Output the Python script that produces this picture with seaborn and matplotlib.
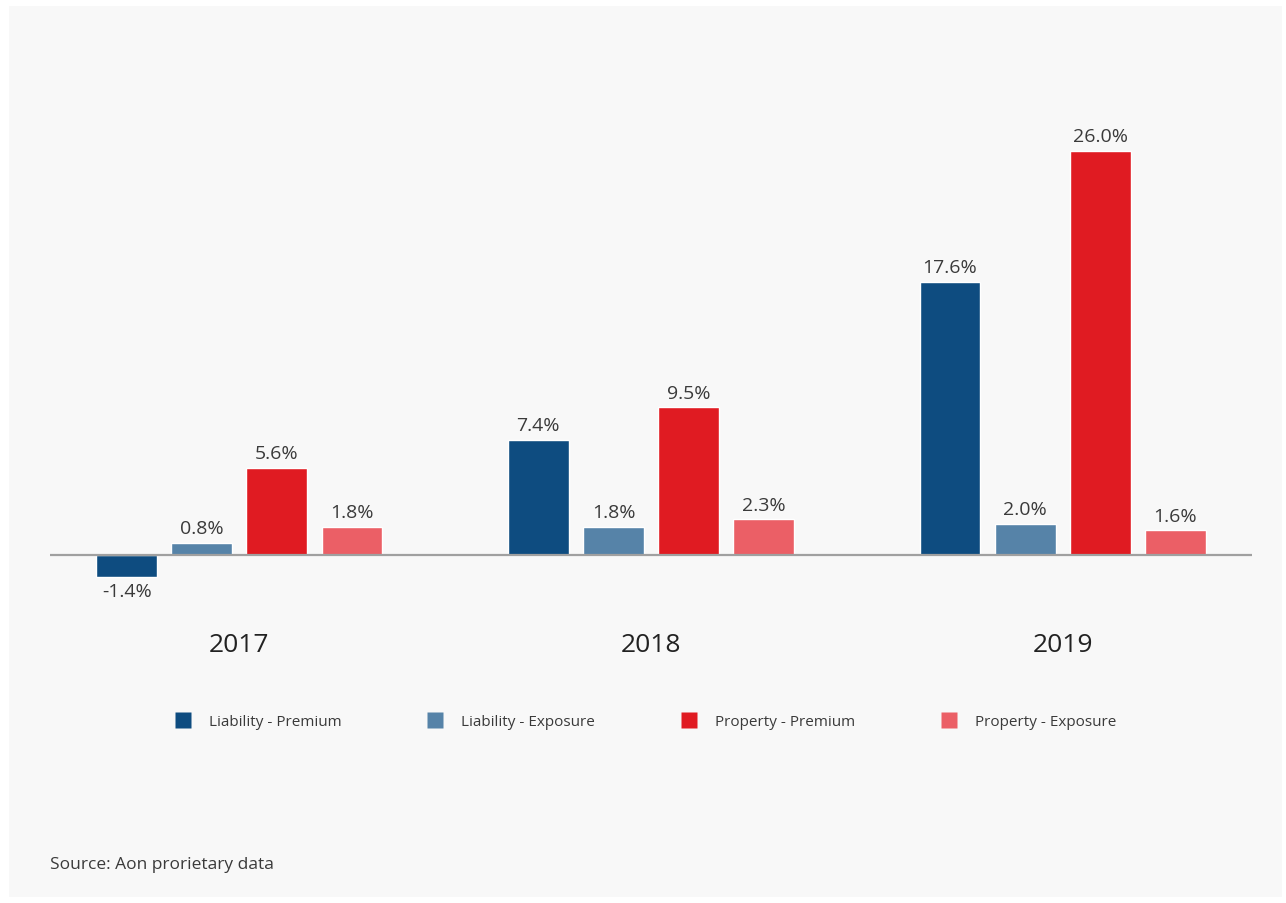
import matplotlib
matplotlib.use("Agg")
import matplotlib.pyplot as plt
from matplotlib.patches import Rectangle
from matplotlib.lines import Line2D
import seaborn as sns
import pandas as pd

# Year-over-year change by line of business
years = ["2017", "2018", "2019"]
series = ["Liability - Premium", "Liability - Exposure",
          "Property - Premium", "Property - Exposure"]
liability_premium = [-1.4, 7.4, 17.6]
liability_exposure = [0.8, 1.8, 2.0]
property_premium = [5.6, 9.5, 26.0]
property_exposure = [1.8, 2.3, 1.6]
source_note = "Source: Aon prorietary data"

colors = ["#0e4c80", "#5683a8", "#e01b22", "#eb5f66"]

values = [liability_premium, liability_exposure, property_premium, property_exposure]
df = pd.DataFrame(
    [(y, s, v) for s, vals in zip(series, values) for y, v in zip(years, vals)],
    columns=["year", "series", "change"],
)

sns.set_theme(style="white")
plt.rcParams["font.family"] = ["Open Sans", "DejaVu Sans"]
text_color = "#3a3a3a"

W, H = 1286, 904
fig = plt.figure(figsize=(W / 100, H / 100), dpi=100)
fig.patch.set_facecolor("white")
fig.patches.append(Rectangle((9 / W, 1 - 898 / H), (1282 - 9) / W, (898 - 7) / H,
                             transform=fig.transFigure, facecolor="#f8f8f8",
                             edgecolor="none", zorder=-10))

ax = fig.add_axes([50 / W, 1 - 587.1 / H, (1252 - 50) / W, (587.1 - 128.7) / H])
ax.set_facecolor("none")

sns.barplot(data=df, x="year", y="change", hue="series", hue_order=series,
            order=years, palette=colors, width=0.73, gap=0.19,
            saturation=1, ax=ax, legend=False)

ax.set_ylim(-2, 27.5)
ax.set_xlim(-0.46, len(years) - 0.54)
ax.axhline(0, color="#a0a0a0", lw=1.6, zorder=5)
for s in ax.spines.values():
    s.set_visible(False)
ax.set_yticks([])
ax.set_xlabel("")
ax.set_ylabel("")
ax.tick_params(axis="x", length=0, pad=33, labelsize=19, labelcolor="#222222")

for cont in ax.containers:
    ax.bar_label(cont, fmt="%.1f%%", padding=4, fontsize=14, color=text_color)

handles = [Line2D([0], [0], marker="s", linestyle="none", markersize=11,
                  markerfacecolor=c, markeredgecolor="none") for c in colors]
fig.legend(handles, series, loc="center", bbox_to_anchor=(646 / W, 1 - 723 / H),
           ncol=4, frameon=False, fontsize=11, labelcolor=text_color,
           handlelength=1.0, handletextpad=1.2, columnspacing=5.65)

fig.text(50 / W, 1 - 869 / H, source_note, fontsize=12.5, color=text_color,
         ha="left", va="baseline")

fig.savefig("out.png", dpi=100)
